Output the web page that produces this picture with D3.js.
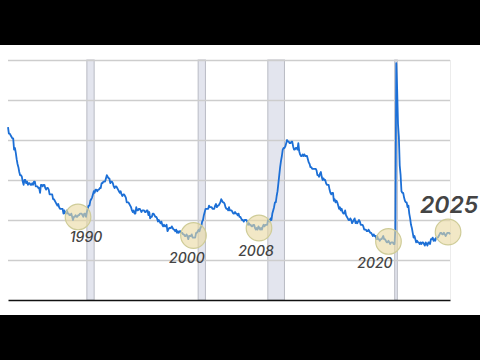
<!DOCTYPE html>
<html><head><meta charset="utf-8">
<script src="https://cdn.jsdelivr.net/npm/d3@7"></script>
<style>html,body{margin:0;padding:0;background:#000;}svg{display:block;}</style>
</head><body>
<script>
// Monthly unemployment rate (%), starting Dec 1982
const startYear = 1982 + 11/12;
const rate1982_1989 = [10.8,
 10.4,10.4,10.3,10.2,10.1,10.1,9.4,9.5,9.2,8.8,8.5,8.3,
 8.0,7.8,7.8,7.7,7.4,7.2,7.5,7.5,7.3,7.4,7.2,7.3,
 7.3,7.2,7.2,7.3,7.2,7.4,7.4,7.1,7.1,7.1,7.0,7.0,
 6.7,7.2,7.2,7.1,7.2,7.2,7.0,6.9,7.0,7.0,6.9,6.6,
 6.6,6.6,6.6,6.3,6.3,6.2,6.1,6.0,5.9,6.0,5.8,5.7,
 5.7,5.7,5.7,5.4,5.6,5.4,5.4,5.6,5.4,5.4,5.3,5.3,
 5.4,5.2,5.0,5.2,5.2,5.3,5.2,5.2,5.3,5.3,5.4,5.4];
const rate1990_1999 = [
 5.4,5.3,5.2,5.4,5.4,5.2,5.5,5.7,5.9,5.9,6.2,6.3,
 6.4,6.6,6.8,6.7,6.9,6.9,6.8,6.9,6.9,7.0,7.0,7.3,
 7.3,7.4,7.4,7.4,7.6,7.8,7.7,7.6,7.6,7.3,7.4,7.4,
 7.3,7.1,7.0,7.1,7.1,7.0,6.9,6.8,6.7,6.8,6.6,6.5,
 6.6,6.6,6.5,6.4,6.1,6.1,6.1,6.0,5.9,5.8,5.6,5.5,
 5.6,5.4,5.4,5.8,5.6,5.6,5.7,5.7,5.6,5.5,5.6,5.6,
 5.6,5.5,5.5,5.6,5.6,5.3,5.5,5.1,5.2,5.2,5.4,5.4,
 5.3,5.2,5.2,5.1,4.9,5.0,4.9,4.8,4.9,4.7,4.6,4.7,
 4.6,4.6,4.7,4.3,4.4,4.5,4.5,4.5,4.6,4.5,4.4,4.4,
 4.3,4.4,4.2,4.3,4.2,4.3,4.3,4.2,4.2,4.1,4.1,4.0];
const rate2000_2009 = [
 4.0,4.1,4.0,3.8,4.0,4.0,4.0,4.1,3.9,3.9,3.9,3.9,
 4.2,4.2,4.3,4.4,4.3,4.5,4.6,4.9,5.0,5.3,5.5,5.7,
 5.7,5.7,5.7,5.9,5.8,5.8,5.8,5.7,5.7,5.7,5.9,6.0,
 5.8,5.9,5.9,6.0,6.1,6.3,6.2,6.1,6.1,6.0,5.8,5.7,
 5.7,5.6,5.8,5.6,5.6,5.6,5.5,5.4,5.4,5.5,5.4,5.4,
 5.3,5.4,5.2,5.2,5.1,5.0,5.0,4.9,5.0,5.0,5.0,4.9,
 4.7,4.8,4.7,4.7,4.6,4.6,4.7,4.7,4.5,4.4,4.5,4.4,
 4.6,4.5,4.4,4.5,4.4,4.6,4.7,4.6,4.7,4.7,4.7,5.0,
 5.0,4.9,5.1,5.0,5.4,5.6,5.8,6.1,6.1,6.5,6.8,7.3,
 7.8,8.3,8.7,9.0,9.4,9.5,9.5,9.6,9.8,10.0,9.9,9.9];
const rate2010_2019 = [
 9.8,9.8,9.9,9.9,9.6,9.4,9.4,9.5,9.5,9.4,9.8,9.3,
 9.1,9.0,9.0,9.1,9.0,9.1,9.0,9.0,9.0,8.8,8.6,8.5,
 8.3,8.3,8.2,8.2,8.2,8.2,8.2,8.1,7.8,7.8,7.7,7.9,
 8.0,7.7,7.5,7.6,7.5,7.5,7.3,7.2,7.2,7.2,6.9,6.7,
 6.6,6.7,6.7,6.2,6.3,6.1,6.2,6.1,5.9,5.7,5.8,5.6,
 5.7,5.5,5.4,5.4,5.6,5.3,5.2,5.1,5.0,5.0,5.1,5.0,
 4.8,4.9,5.0,5.1,4.8,4.9,4.8,4.9,5.0,4.9,4.7,4.7,
 4.7,4.6,4.4,4.4,4.4,4.3,4.3,4.4,4.3,4.2,4.2,4.1,
 4.0,4.1,4.0,4.0,3.8,4.0,3.8,3.8,3.7,3.8,3.8,3.9,
 4.0,3.8,3.8,3.7,3.6,3.6,3.7,3.6,3.5,3.6,3.6,3.6];
const rate2020_2025 = [
 3.5,3.5,4.4,14.8,13.2,11.0,10.2,8.4,7.8,6.8,6.7,6.7,
 6.4,6.2,6.1,6.1,5.8,5.9,5.4,5.1,4.7,4.5,4.2,3.9,
 4.0,3.8,3.6,3.7,3.6,3.6,3.5,3.6,3.5,3.6,3.6,3.5,
 3.4,3.6,3.5,3.4,3.6,3.6,3.5,3.8,3.8,3.9,3.7,3.8,
 3.7,3.9,3.9,3.9,4.0,4.1,4.2,4.2,4.1,4.1,4.2,4.1,
 4.0,4.1,4.2,4.2,4.2,4.1];

const recessionStarts = [1990.5, 2001.2, 2007.9, 2020.1];
const recessionEnds   = [1991.2, 2001.9, 2009.5, 2020.35];

const gridValues = [2.5, 5, 7.5, 10, 12.5, 15];

const annoLabels = ["1990", "2000", "2008", "2020", "2025"];
const annoDates  = [1989.65, 2000.75, 2007.05, 2019.5, 2025.23];
const annoValues = [5.19, 4.03, 4.5, 3.66, 4.25];

const rates = [].concat(rate1982_1989, rate1990_1999, rate2000_2009, rate2010_2019, rate2020_2025);
const series = rates.map((v, i) => ({date: startYear + i / 12, value: v}));

const W = 480, H = 360;
const svg = d3.select("body").append("svg").attr("width", W).attr("height", H);
svg.append("rect").attr("width", W).attr("height", H).attr("fill", "#000");
svg.append("rect").attr("x", 0).attr("y", 45).attr("width", W).attr("height", 270).attr("fill", "#fff");

const x = d3.scaleLinear().domain([startYear, 2025 + 5/12]).range([8, 450]);
const y = d3.scaleLinear().domain([0, 15]).range([300, 60]);

// recession bands
svg.append("g").selectAll("rect").data(recessionStarts).join("rect")
  .attr("x", (d) => x(d))
  .attr("width", (d, i) => Math.max(2, x(recessionEnds[i]) - x(d)))
  .attr("y", y(15)).attr("height", y(0) - y(15))
  .attr("fill", "#e3e5ee").attr("stroke", "#b9bbc4").attr("stroke-width", 1);

// gridlines
const grid = svg.append("g").attr("transform", "translate(8,0)")
  .call(d3.axisLeft(y).tickValues(gridValues).tickSize(-(450 - 8)).tickFormat(""));
grid.select(".domain").remove();
grid.selectAll(".tick line").attr("stroke", "#cdcdcd").attr("stroke-width", 1.5);

// right border
svg.append("line").attr("x1", 450.5).attr("x2", 450.5).attr("y1", y(15)).attr("y2", y(0))
  .attr("stroke", "#ececec").attr("stroke-width", 1);

// baseline
const base = svg.append("g").attr("transform", `translate(0,${y(0)})`)
  .call(d3.axisBottom(x).tickValues([]).tickSizeOuter(0));
base.select(".domain").attr("stroke", "#111").attr("stroke-width", 1.5);

// line
svg.append("path").datum(series)
  .attr("fill", "none").attr("stroke", "#1c6fd6").attr("stroke-width", 1.8)
  .attr("stroke-linejoin", "round")
  .attr("d", d3.line().x((d) => x(d.date)).y((d) => y(d.value)));

// annotation circles
svg.append("g").selectAll("circle").data(annoDates).join("circle")
  .attr("cx", (d) => x(d)).attr("cy", (d, i) => y(annoValues[i])).attr("r", 12.8)
  .attr("fill", "#ead9a0").attr("fill-opacity", 0.6)
  .attr("stroke", "#cfcc98").attr("stroke-width", 1.2);

// labels
const labelDx = [8, -6.5, -3, -13.5, 1];
const labelDy = [25, 27.5, 28, 26.5, -19];
const labelSize = [14, 14, 14, 14, 23];
svg.append("g").selectAll("text").data(annoLabels).join("text")
  .attr("x", (d, i) => x(annoDates[i]) + labelDx[i])
  .attr("y", (d, i) => y(annoValues[i]) + labelDy[i])
  .attr("text-anchor", "middle")
  .attr("font-family", "Inter, 'Open Sans', sans-serif")
  .attr("font-style", "italic")
  .attr("font-weight", (d, i) => i === 4 ? 600 : 500)
  .attr("font-size", (d, i) => labelSize[i])
  .attr("fill", "#444")
  .text((d) => d);
</script>
</body></html>
